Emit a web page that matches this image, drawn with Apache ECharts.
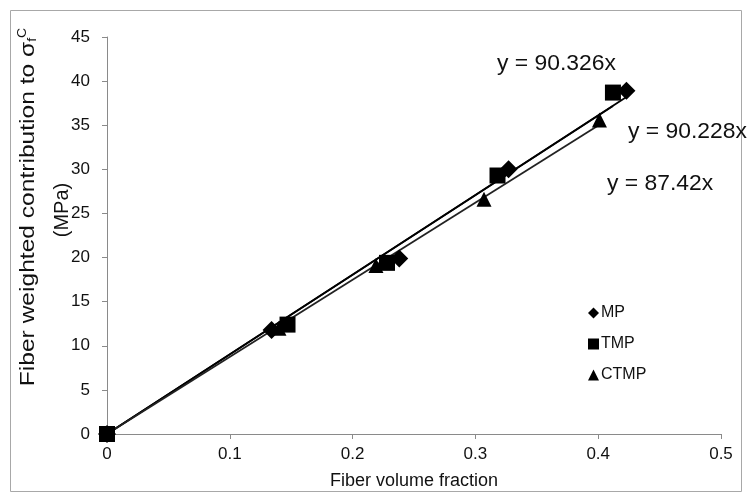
<!DOCTYPE html>
<html><head><meta charset="utf-8">
<script src="https://cdn.jsdelivr.net/npm/echarts@6/dist/echarts.min.js"></script>
<style>html,body{margin:0;padding:0;background:#fff}#c{width:752px;height:492px}</style>
</head><body><div id="c"></div>
<script>
// ---- data ----
const seriesNames = ['MP', 'TMP', 'CTMP'];
const mpX = [0, 0.134, 0.238, 0.327, 0.423];
const mpY = [0, 11.8, 19.9, 30.0, 38.9];
const tmpX = [0, 0.147, 0.228, 0.318, 0.412];
const tmpY = [0, 12.4, 19.4, 29.3, 38.7];
const ctmpX = [0, 0.140, 0.219, 0.307, 0.401];
const ctmpY = [0, 12.0, 19.1, 26.6, 35.6];
const trendSlopes = [90.326, 90.228, 87.42];
const equationLabels = ['y = 90.326x', 'y = 90.228x', 'y = 87.42x'];
const xAxisTitle = 'Fiber volume fraction';
const yAxisTitle1 = 'Fiber weighted contribution to σ';
const yAxisTitle2 = '(MPa)';

// ---- build ----
const xs = [mpX, tmpX, ctmpX];
const ys = [mpY, tmpY, ctmpY];
const symbols = ['diamond', 'rect', 'triangle'];
const symbolSizes = [18, 16, 15];
const lineColors = ['#000', '#000', '#222'];
const FONT = 'Liberation Sans, Arial, sans-serif';
const TXT = '#111';

const series = [];
seriesNames.forEach((n, i) => {
  const maxX = Math.max(...xs[i]);
  series.push({
    name: n + ' trend', type: 'line', silent: true, symbol: 'none',
    lineStyle: {color: lineColors[i], width: 1.8},
    data: [[0, 0], [maxX, trendSlopes[i] * maxX]], z: 2
  });
});
seriesNames.forEach((n, i) => {
  series.push({
    name: n, type: 'scatter', symbol: symbols[i], symbolSize: symbolSizes[i],
    itemStyle: {color: '#000', opacity: 1},
    data: xs[i].map((x, j) => [x, ys[i][j]]), z: 3
  });
});

const axisCommon = {
  axisLine: {show: true, lineStyle: {color: '#8a8a8a', width: 1}},
  axisTick: {show: true, inside: false, length: 5, lineStyle: {color: '#8a8a8a'}},
  splitLine: {show: false},
  axisLabel: {color: TXT, fontFamily: FONT, fontSize: 17}
};

const chart = echarts.init(document.getElementById('c'), null, {renderer: 'canvas'});
chart.setOption({
  animation: false,
  backgroundColor: '#fff',
  grid: {left: 107, right: 31, top: 37, bottom: 58, containLabel: false, outerBoundsMode: 'none'},
  xAxis: Object.assign({}, axisCommon, {
    type: 'value', min: 0, max: 0.5, interval: 0.1,
    axisLabel: Object.assign({}, axisCommon.axisLabel, {margin: 12}),
    name: xAxisTitle, nameLocation: 'middle', nameGap: 38,
    nameTextStyle: {color: TXT, fontFamily: FONT, fontSize: 18}
  }),
  yAxis: Object.assign({}, axisCommon, {
    type: 'value', min: 0, max: 45, interval: 5,
    axisLabel: Object.assign({}, axisCommon.axisLabel, {margin: 17})
  }),
  legend: {
    data: seriesNames.map((n, i) => ({name: n, icon: symbols[i]})),
    orient: 'vertical', left: 583, top: 300,
    itemWidth: 11, itemHeight: 11, itemGap: 15,
    textStyle: {color: TXT, fontFamily: FONT, fontSize: 16, padding: [0, 0, 0, -3]}
  },
  graphic: [
    {type: 'rect', shape: {x: 10.5, y: 10.5, width: 731, height: 481}, style: {fill: 'none', stroke: '#a8a8a8', lineWidth: 1}, silent: true},
    {type: 'text', x: 497, y: 64, scaleX: 1.04, style: {text: equationLabels[0], font: '22px ' + FONT, fill: TXT, verticalAlign: 'middle'}},
    {type: 'text', x: 628, y: 132, scaleX: 1.04, style: {text: equationLabels[1], font: '22px ' + FONT, fill: TXT, verticalAlign: 'middle'}},
    {type: 'text', x: 607, y: 184, scaleX: 1.04, style: {text: equationLabels[2], font: '22px ' + FONT, fill: TXT, verticalAlign: 'middle'}},
    {type: 'text', x: 28, y: 207, rotation: Math.PI / 2, scaleX: 1.17,
      style: {text: yAxisTitle1 + '{sub|f}{sup|C}', font: '21px ' + FONT, fill: TXT, align: 'center', verticalAlign: 'middle',
        rich: {sub: {fontSize: 12, fontFamily: FONT, fill: TXT, verticalAlign: 'bottom', padding: [8, 0, 0, 0]},
               sup: {fontSize: 12, fontFamily: FONT, fill: TXT, verticalAlign: 'top', padding: [0, 0, 10, 0]}}}},
    {type: 'text', x: 62, y: 210, rotation: Math.PI / 2,
      style: {text: yAxisTitle2, font: '20px ' + FONT, fill: TXT, align: 'center', verticalAlign: 'middle'}}
  ],
  series: series
});
</script>
</body></html>
